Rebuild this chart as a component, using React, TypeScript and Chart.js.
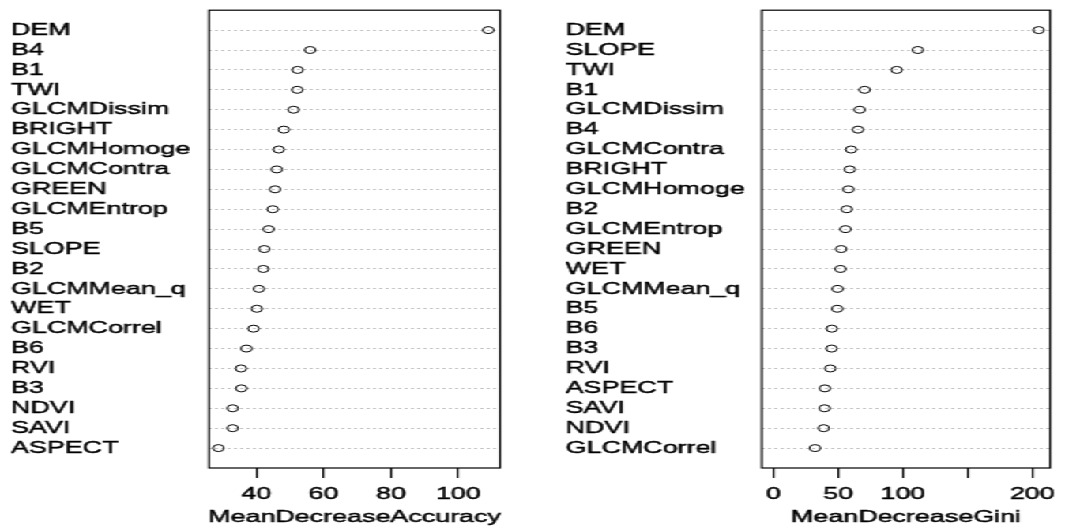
import React, { useEffect, useRef } from 'react';
import { Chart, registerables } from 'chart.js';
Chart.register(...registerables);

// ---- data ----
const accLabels = ['DEM', 'B4', 'B1', 'TWI', 'GLCMDissim', 'BRIGHT', 'GLCMHomoge', 'GLCMContra', 'GREEN', 'GLCMEntrop', 'B5', 'SLOPE', 'B2', 'GLCMMean_q', 'WET', 'GLCMCorrel', 'B6', 'RVI', 'B3', 'NDVI', 'SAVI', 'ASPECT'];
const accValues = [108.9, 56.0, 52.3, 52.2, 51.1, 48.2, 46.7, 46.1, 45.6, 44.9, 43.7, 42.4, 42.1, 40.8, 40.2, 39.2, 37.1, 35.5, 35.6, 33.0, 33.0, 28.8];
const accTicks = [40, 60, 80, 100];
const accTickLabels = ['40', '60', '80', '100'];

const giniLabels = ['DEM', 'SLOPE', 'TWI', 'B1', 'GLCMDissim', 'B4', 'GLCMContra', 'BRIGHT', 'GLCMHomoge', 'B2', 'GLCMEntrop', 'GREEN', 'WET', 'GLCMMean_q', 'B5', 'B6', 'B3', 'RVI', 'ASPECT', 'SAVI', 'NDVI', 'GLCMCorrel'];
const giniValues = [204.9, 111.6, 95.3, 70.5, 66.7, 65.4, 60.1, 59.0, 58.0, 56.7, 55.7, 52.4, 51.9, 49.6, 49.4, 45.2, 45.0, 44.0, 39.8, 39.6, 38.9, 32.2];
const giniTicks = [0, 50, 100, 150, 200];
const giniTickLabels = ['0', '50', '100', '', '200'];

const BASE_W = 674;
const H = 531;
const STRETCH = 1065 / BASE_W;
const FONT = '"Liberation Sans", Arial, Helvetica, sans-serif';
const FONT_SIZE = 17;
const TEXT_STROKE = 0.45;

const boxPlugin = {
  id: 'boxPlugin',
  afterDraw(chart: any, _args: any, opts: any) {
    const { ctx, chartArea } = chart;
    ctx.save();
    ctx.strokeStyle = '#000';
    ctx.lineWidth = 1.2;
    ctx.strokeRect(chartArea.left, chartArea.top, chartArea.right - chartArea.left, chartArea.bottom - chartArea.top);
    // axis title (R-style, below tick labels)
    ctx.font = `${FONT_SIZE}px ${FONT}`;
    ctx.textAlign = 'center';
    ctx.textBaseline = 'middle';
    ctx.fillStyle = '#000';
    ctx.lineWidth = TEXT_STROKE;
    const cx = (chartArea.left + chartArea.right) / 2;
    ctx.strokeText(opts.title, cx, 517.5);
    ctx.fillText(opts.title, cx, 517.5);
    ctx.restore();
  },
};

type PanelProps = {
  labels: string[];
  values: number[];
  ticks: number[];
  tickLabels: string[];
  xMin: number;
  xMax: number;
  title: string;
  padLeft: number;
  yWidth: number;
  padRight: number;
  left: number;
  width: number;
};

function Panel(p: PanelProps) {
  const ref = useRef<HTMLCanvasElement>(null);
  useEffect(() => {
    const n = p.labels.length;
    const pts = p.values.map((v, i) => ({ x: v, y: n - i }));
    const chart = new Chart(ref.current as HTMLCanvasElement, {
      type: 'scatter',
      data: {
        datasets: [
          {
            data: pts,
            pointStyle: 'circle',
            pointRadius: 3.5,
            pointBorderWidth: 1,
            pointBorderColor: '#000',
            pointBackgroundColor: 'rgba(0,0,0,0)',
            showLine: false,
          },
        ],
      },
      options: {
        animation: false,
        responsive: false,
        devicePixelRatio: 1,
        events: [],
        layout: { padding: { left: p.padLeft, right: p.padRight, top: 6, bottom: 0 }, autoPadding: false },
        plugins: {
          legend: { display: false },
          tooltip: { enabled: false },
          title: { display: false },
          boxPlugin: { title: p.title },
        },
        scales: {
          x: {
            type: 'linear',
            position: 'bottom',
            min: p.xMin,
            max: p.xMax,
            afterBuildTicks: (scale: any) => {
              scale.ticks = p.ticks.map((v) => ({ value: v }));
            },
            afterFit: (scale: any) => {
              scale.height = 63;
            },
            ticks: {
              callback: (v: any) => {
                const idx = p.ticks.indexOf(Number(v));
                return idx >= 0 ? p.tickLabels[idx] : '';
              },
              font: { family: FONT, size: FONT_SIZE },
              color: '#000',
              textStrokeColor: '#000',
              textStrokeWidth: TEXT_STROKE,
              padding: 6,
              maxRotation: 0,
              autoSkip: false,
            },
            grid: { display: true, drawOnChartArea: false, drawTicks: true, tickLength: 10, color: '#000', lineWidth: 1.2 },
            border: { display: false },
            title: { display: false },
          },
          y: {
            type: 'linear',
            position: 'left',
            min: 0,
            max: n + 1,
            afterBuildTicks: (scale: any) => {
              scale.ticks = p.labels.map((_, i) => ({ value: i + 1 }));
            },
            afterFit: (scale: any) => {
              scale.width = p.yWidth;
            },
            ticks: {
              callback: (v: any) => p.labels[n - Number(v)] ?? '',
              crossAlign: 'far',
              font: { family: FONT, size: FONT_SIZE },
              color: '#000',
              textStrokeColor: '#000',
              textStrokeWidth: TEXT_STROKE,
              padding: 0,
              autoSkip: false,
            },
            grid: { display: true, drawOnChartArea: true, drawTicks: false, color: '#c4c4c4', lineWidth: 1 },
            border: { display: false, dash: [2, 2] },
          },
        },
      },
      plugins: [boxPlugin],
    } as any);
    return () => chart.destroy();
  }, []);
  return (
    <canvas
      ref={ref}
      width={p.width}
      height={H}
      style={{ position: 'absolute', left: p.left, top: 0, width: p.width + 'px', height: H + 'px' }}
    />
  );
}

export default function App() {
  return (
    <div style={{ position: 'fixed', left: 0, top: 0, width: 1065, height: H, background: '#fff', overflow: 'hidden' }}>
      <div
        style={{
          position: 'absolute',
          left: 0,
          top: 0,
          width: BASE_W,
          height: H,
          transform: `scaleX(${STRETCH})`,
          transformOrigin: '0 0',
        }}
      >
        <Panel
          labels={accLabels}
          values={accValues}
          ticks={accTicks}
          tickLabels={accTickLabels}
          xMin={26.0}
          xMax={112.4}
          title="MeanDecreaseAccuracy"
          padLeft={7}
          yWidth={125.3}
          padRight={20.5}
          left={0}
          width={337}
        />
        <Panel
          labels={giniLabels}
          values={giniValues}
          ticks={giniTicks}
          tickLabels={giniTickLabels}
          xMin={-8.9}
          xMax={213.8}
          title="MeanDecreaseGini"
          padLeft={21}
          yWidth={124.1}
          padRight={8}
          left={337}
          width={337}
        />
      </div>
    </div>
  );
}
